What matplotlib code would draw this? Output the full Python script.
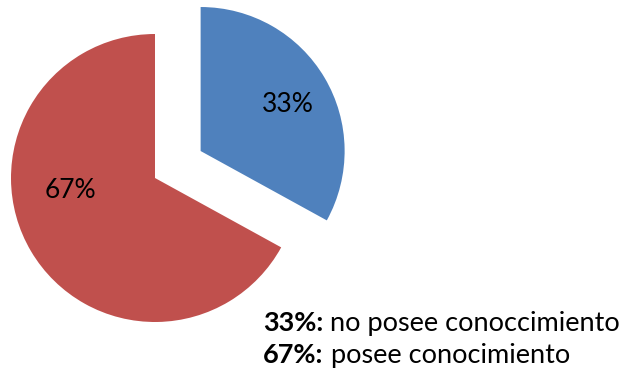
import matplotlib
matplotlib.use("Agg")
import matplotlib.pyplot as plt

# Data
categories = ["no posee conoccimiento", "posee conocimiento"]
values = [33, 67]
pct_labels = ["33%", "67%"]
colors = ["#4F81BD", "#C0504D"]
explode = [53, 0]

W, H = 626, 372
fig = plt.figure(figsize=(W / 100, H / 100), dpi=100)
ax = fig.add_axes([0, 0, 1, 1])

R = 144
center = (155, H - 178)
wedges, _ = ax.pie(values, colors=colors, explode=explode, radius=R, center=center,
                   startangle=90, counterclock=False, frame=False,
                   wedgeprops=dict(linewidth=0))
ax.set_xlim(0, W)
ax.set_ylim(0, H)
ax.set_aspect("equal")
ax.axis("off")

font = "Lato"
# percentage labels inside slices
label_pos = [(288, H - 104), (70, H - 190)]
for (x, y), t in zip(label_pos, pct_labels):
    ax.text(x, y, t, ha="center", va="center", fontsize=19, family=font, color="black")

# legend-like text block
line_y = [H - 323, H - 355]
for y, t, c in zip(line_y, pct_labels, categories):
    b = ax.text(263, y, t + ":", ha="left", va="center", fontsize=19.5,
                fontweight="bold", family=font, color="black")
    ax.annotate(" " + c, xy=(1, 0.5), xycoords=b, ha="left", va="center",
                fontsize=19.5, family=font, color="black")

fig.savefig("out.png", dpi=100)
